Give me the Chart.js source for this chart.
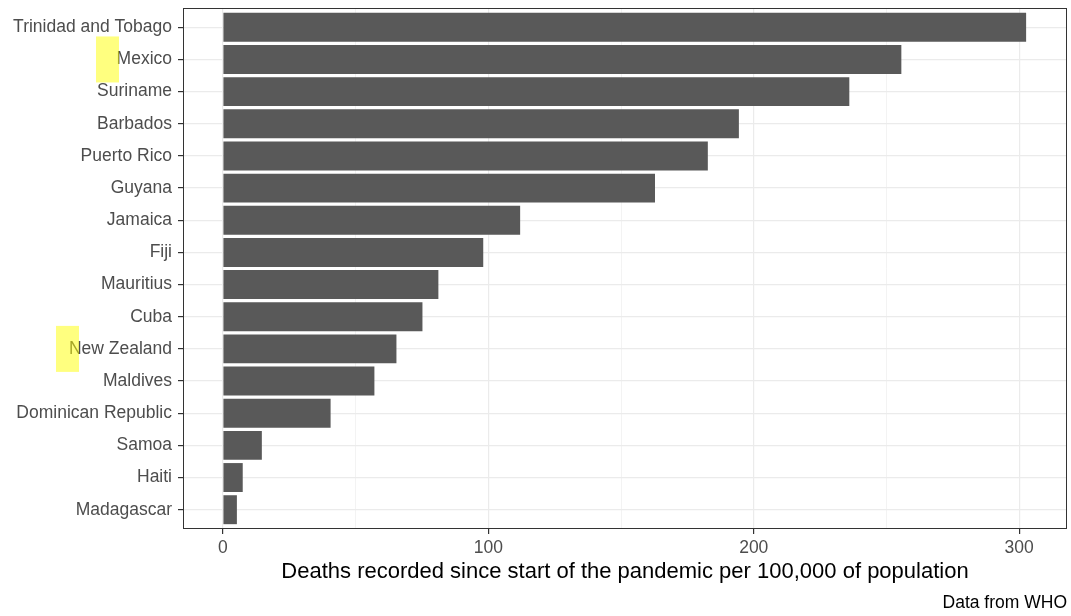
<!DOCTYPE html>
<html>
<head>
<meta charset="utf-8">
<script src="https://cdn.jsdelivr.net/npm/chart.js@4"></script>
<style>
  html, body { margin: 0; padding: 0; background: #ffffff; }
  #wrap { width: 1071px; height: 616px; }
</style>
</head>
<body>
<div id="wrap"><canvas id="chart"></canvas></div>
<script>
// countries top to bottom, deaths per 100k
const countries = [
  "Trinidad and Tobago", "Mexico", "Suriname", "Barbados", "Puerto Rico",
  "Guyana", "Jamaica", "Fiji", "Mauritius", "Cuba", "New Zealand",
  "Maldives", "Dominican Republic", "Samoa", "Haiti", "Madagascar"
];
const deaths = [
  302.6, 255.6, 236.0, 194.4, 182.7, 162.8, 112.0, 98.1,
  81.2, 75.2, 65.4, 57.1, 40.6, 14.7, 7.5, 5.3
];
const xTicks = [0, 50, 100, 150, 200, 250, 300];
// yellow marks next to some labels: how far left of the label's end they start
const highlighted = ["Mexico", "New Zealand"];
const highlightOffset = [76, 116];

const FONT = "'Liberation Sans', Arial, sans-serif";
const textGrey = "#4d4d4d";

// axis title, caption, panel border and the yellow marks
const extras = {
  id: "extras",
  afterDraw(chart) {
    const { ctx, chartArea: a, scales } = chart;
    ctx.save();
    ctx.strokeStyle = "#333333";
    ctx.lineWidth = 1;
    ctx.strokeRect(a.left + 0.5, a.top + 0.5, a.right - a.left - 1, a.bottom - a.top - 1);

    ctx.fillStyle = "#000000";
    ctx.textAlign = "center";
    ctx.textBaseline = "middle";
    ctx.font = "22px " + FONT;
    ctx.fillText("Deaths recorded since start of the pandemic per 100,000 of population",
      (a.left + a.right) / 2, 572);
    ctx.font = "17.5px " + FONT;
    ctx.textAlign = "right";
    ctx.fillText("Data from WHO", a.right, 603);

    ctx.fillStyle = "rgba(255, 255, 0, 0.5)";
    const labelEnd = a.left - 11;
    highlighted.forEach((name, k) => {
      const y = scales.y.getPixelForValue(countries.indexOf(name));
      ctx.fillRect(labelEnd - highlightOffset[k], y - 23, 23, 46);
    });
    ctx.restore();
  }
};

new Chart(document.getElementById("chart"), {
  type: "bar",
  data: {
    datasets: [{
      data: deaths.map((v, i) => ({ x: v, y: i })),
      backgroundColor: "#595959",
      borderWidth: 0,
      barPercentage: 0.9,
      categoryPercentage: 1.0
    }]
  },
  plugins: [extras],
  options: {
    indexAxis: "y",
    responsive: true,
    maintainAspectRatio: false,
    animation: false,
    layout: { padding: { top: 8, right: 4, bottom: 53, left: 0 } },
    plugins: {
      legend: { display: false },
      tooltip: { enabled: false }
    },
    scales: {
      x: {
        type: "linear",
        min: -15,
        max: 318,
        afterBuildTicks: (scale) => { scale.ticks = xTicks.map((v) => ({ value: v })); },
        grid: {
          color: "#ebebeb",
          lineWidth: (c) => (c.tick && c.tick.value % 100 === 0 ? 1.2 : 0.6),
          tickColor: (c) => (c.tick && c.tick.value % 100 === 0 ? "#333333" : "rgba(0,0,0,0)"),
          tickLength: 5,
          drawOnChartArea: true
        },
        border: { display: false },
        ticks: {
          color: textGrey,
          font: { family: FONT, size: 17.5 },
          padding: 4,
          maxRotation: 0,
          callback: (v) => (v % 100 === 0 ? String(v) : "")
        }
      },
      y: {
        type: "linear",
        reverse: true,
        min: -0.6,
        max: countries.length - 0.4,
        offset: false,
        afterBuildTicks: (scale) => { scale.ticks = countries.map((_, i) => ({ value: i })); },
        afterFit: (scale) => {
          scale.width = 183;
          scale.paddingTop = 0;
          scale.paddingBottom = 0;
        },
        grid: {
          offset: false,
          color: "#ebebeb",
          lineWidth: 1.2,
          tickColor: "#333333",
          tickLength: 5
        },
        border: { display: false },
        ticks: {
          color: textGrey,
          font: { family: FONT, size: 17.5 },
          padding: 6,
          autoSkip: false,
          callback: (v) => countries[v]
        }
      }
    }
  }
});
</script>
</body>
</html>
